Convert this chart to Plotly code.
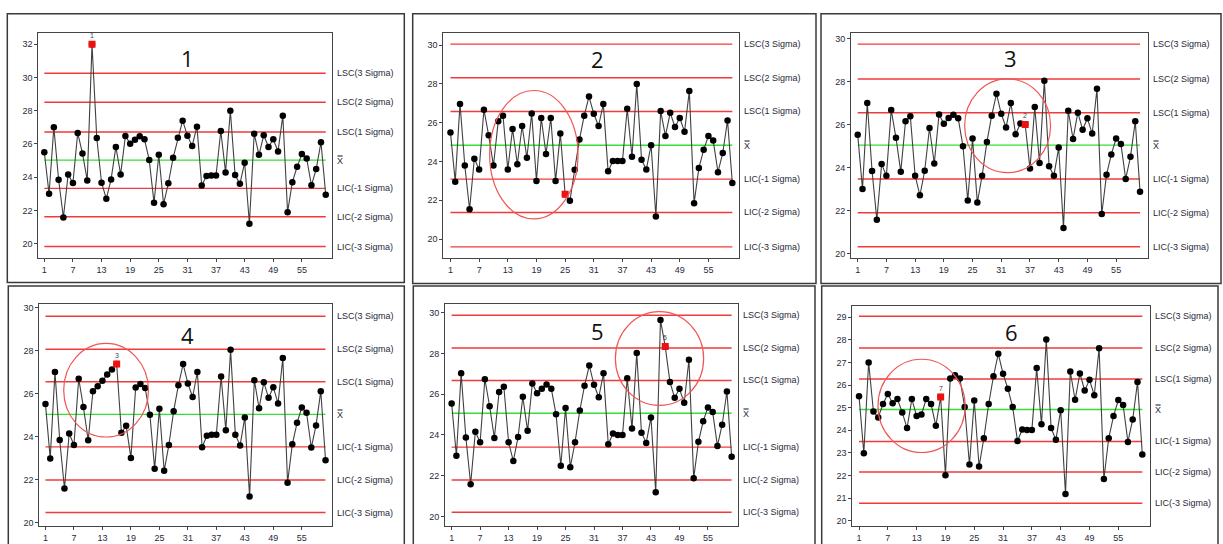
import plotly.graph_objects as go

W, H = 1223, 544

# ---------------- data ----------------
x_idx = list(range(1, 61))
x_ticks = [1, 7, 13, 19, 25, 31, 37, 43, 49, 55]

p1 = [25.5, 23.0, 27.0, 23.85, 21.58, 24.17, 23.65, 26.66, 25.43, 23.81,
      32.0, 26.36, 23.67, 22.7, 23.87, 25.82, 24.17, 26.48, 26.02, 26.26,
      26.46, 26.28, 25.03, 22.46, 25.35, 22.38, 23.63, 25.17, 26.38, 27.4,
      26.5, 25.88, 27.04, 23.5, 24.07, 24.1, 24.1, 26.78, 24.29, 28.0,
      24.13, 23.6, 24.87, 21.2, 26.62, 25.35, 26.52, 25.82, 26.28, 25.55,
      27.7, 21.9, 23.7, 24.63, 25.39, 25.13, 23.51, 24.49, 26.1, 22.94]
p2 = [25.49, 22.96, 26.97, 23.79, 21.54, 24.14, 23.59, 26.67, 25.35, 23.79,
      26.07, 26.36, 23.59, 25.68, 23.86, 25.83, 24.19, 26.48, 22.99, 26.24,
      24.39, 26.24, 22.99, 25.45, 22.31, 21.97, 23.57, 25.13, 26.36, 27.35,
      26.46, 25.83, 26.97, 23.5, 24.02, 24.02, 24.02, 26.72, 24.24, 28.0,
      24.09, 23.59, 24.84, 21.16, 26.6, 25.32, 26.51, 25.78, 26.24, 25.54,
      27.64, 21.85, 23.66, 24.6, 25.32, 25.08, 23.45, 24.44, 26.12, 22.89]
p3 = [25.53, 23.0, 27.0, 23.84, 21.57, 24.16, 23.62, 26.68, 25.38, 23.81,
      26.15, 26.38, 23.62, 22.71, 23.85, 25.84, 24.19, 26.47, 26.04, 26.3,
      26.46, 26.29, 24.99, 22.47, 25.35, 22.37, 23.62, 25.19, 26.41, 27.43,
      26.5, 25.86, 27.0, 25.55, 26.05, 26.0, 23.95, 26.81, 24.21, 28.04,
      24.06, 23.62, 24.93, 21.19, 26.64, 25.33, 26.55, 25.76, 26.29, 25.58,
      27.66, 21.84, 23.67, 24.61, 25.35, 25.1, 23.47, 24.5, 26.15, 22.88]
p4 = [25.52, 22.99, 27.01, 23.85, 21.6, 24.15, 23.62, 26.7, 25.38, 23.84,
      26.12, 26.35, 26.6, 26.9, 27.13, 27.38, 24.19, 24.51, 23.02, 26.29,
      26.45, 26.27, 25.02, 22.51, 25.3, 22.42, 23.62, 25.19, 26.39, 27.38,
      26.48, 25.85, 27.01, 23.51, 24.05, 24.1, 24.1, 26.8, 24.3, 28.04,
      24.1, 23.6, 24.9, 21.22, 26.63, 25.33, 26.53, 25.81, 26.3, 25.55,
      27.66, 21.86, 23.65, 24.65, 25.36, 25.12, 23.5, 24.53, 26.12, 22.91]
p5 = [25.54, 22.98, 27.02, 23.87, 21.58, 24.16, 23.64, 26.73, 25.41, 23.85,
      26.11, 26.36, 23.64, 22.72, 23.9, 25.87, 24.2, 26.52, 26.05, 26.26,
      26.47, 26.26, 25.01, 22.49, 25.32, 22.42, 23.64, 25.2, 26.41, 27.4,
      26.46, 25.85, 27.02, 23.54, 24.07, 24.0, 24.0, 26.78, 24.31, 28.02,
      24.11, 23.61, 24.86, 21.19, 29.64, 28.34, 26.59, 25.82, 26.26, 25.58,
      27.69, 21.87, 23.66, 24.67, 25.35, 25.12, 23.46, 24.5, 26.13, 22.93]
p6 = [25.51, 22.99, 27.0, 24.83, 24.57, 25.16, 25.61, 25.2, 25.38, 24.79,
      24.1, 25.38, 24.63, 24.7, 25.38, 25.16, 24.2, 25.47, 22.02, 26.29,
      26.43, 26.29, 25.03, 22.49, 25.32, 22.4, 23.65, 25.16, 26.39, 27.38,
      26.5, 25.84, 25.03, 23.53, 24.04, 24.01, 24.01, 26.75, 24.27, 28.01,
      24.1, 23.58, 24.89, 21.19, 26.6, 25.35, 26.51, 25.76, 26.23, 25.55,
      27.63, 21.85, 23.65, 24.63, 25.34, 25.12, 23.49, 24.48, 26.13, 22.93]

# control limits: +3s, +2s, +1s, mean, -1s, -2s, -3s
lim1 = [30.25, 28.51, 26.72, 25.03, 23.33, 21.62, 19.83]
lim2 = [30.05, 28.32, 26.58, 24.84, 23.09, 21.37, 19.60]
lim3 = [29.74, 28.12, 26.55, 25.04, 23.47, 21.90, 20.32]
lim4 = [29.60, 28.07, 26.56, 25.04, 23.53, 21.99, 20.48]
lim5 = [29.87, 28.26, 26.67, 25.06, 23.40, 21.79, 20.21]
lim6 = [29.04, 27.64, 26.27, 24.92, 23.51, 22.16, 20.78]

limit_labels = ["LSC(3 Sigma)", "LSC(2 Sigma)", "LSC(1 Sigma)", "X\u033F",
                "LIC(-1 Sigma)", "LIC(-2 Sigma)", "LIC(-3 Sigma)"]

# flagged points (1-based index) and their rule labels
flag_idx = [11, 25, 36, 16, 46, 18]
flag_txt = ["1", "", "2", "3", "5", "7"]

panel_names = ["1", "2", "3", "4", "5", "6"]

# highlight ellipses in data units: (x0, x1, y0, y1); None = no ellipse
ellipses = [None,
            (9.2, 27.7, 21.04, 27.66),
            (23.35, 41.3, 23.76, 28.12),
            (4.84, 22.7, 23.99, 28.34),
            (35.5, 54.1, 25.45, 30.05),
            (4.95, 23.1, 23.02, 27.14)]

series = [p1, p2, p3, p4, p5, p6]
limits = [lim1, lim2, lim3, lim4, lim5, lim6]

# ---------------- layout (pixels) ----------------
frames = [(38.3, 331.7, 31.7, 258.3), (443.3, 739.0, 31.7, 258.3), (851.0, 1147.7, 32.3, 258.3),
          (39.3, 331.7, 304.7, 528.0), (445.0, 738.3, 304.7, 528.0), (852.3, 1150.0, 306.3, 528.0)]
boxes = [(7.3, 404.3, 12.7, 283.0), (412.7, 816.0, 12.7, 284.0), (821.0, 1221.0, 12.7, 284.0),
         (8.3, 404.3, 286.7, 562.0), (413.3, 815.0, 286.7, 562.0), (821.7, 1218.0, 286.7, 562.0)]
yranges = [(19.15, 32.7), (19.03, 30.65), (19.8, 30.25), (19.85, 30.17), (19.53, 30.42), (19.77, 29.51)]
ydticks = [2, 2, 2, 2, 2, 1]
xranges = [(-0.26, 61.25), (-0.5, 61.4), (-0.4, 61.6), (-0.3, 61.3), (-0.4, 61.4), (-0.4, 61.6)]
title_pos = [(187, 57), (597, 58), (1010, 57), (187, 336), (597, 332), (1011, 333)]


def px(x):
    return x / W


def py(y):
    return 1 - y / H


fig = go.Figure()
shapes = []
annotations = []
tick_font = dict(family="Liberation Sans, Arial, sans-serif", size=9, color="#2a2a3a")
line_colors = ["#f23a3a", "#f23a3a", "#f23a3a", "#33e033", "#f23a3a", "#f23a3a", "#f23a3a"]

for k in range(6):
    n = k + 1
    xa = "x" if n == 1 else f"x{n}"
    ya = "y" if n == 1 else f"y{n}"
    l, r, t, b = frames[k]
    fig.update_layout(**{
        ("xaxis" if n == 1 else f"xaxis{n}"): dict(
            domain=[px(l), px(r)], anchor=ya, range=list(xranges[k]),
            tickmode="array", tickvals=x_ticks, ticks="outside", ticklen=3,
            tickcolor="#444", showline=True, linecolor="#444", linewidth=1,
            mirror=True, showgrid=False, zeroline=False, tickfont=tick_font),
        ("yaxis" if n == 1 else f"yaxis{n}"): dict(
            domain=[py(b), py(t)], anchor=xa, range=list(yranges[k]),
            tick0=20, dtick=ydticks[k], ticks="outside", ticklen=3,
            tickcolor="#444", showline=True, linecolor="#444", linewidth=1,
            mirror=True, showgrid=False, zeroline=False, tickfont=tick_font),
    })
    for j, v in enumerate(limits[k]):
        fig.add_trace(go.Scatter(x=[x_idx[0], x_idx[-1]], y=[v, v], mode="lines",
                                 line=dict(color=line_colors[j], width=1.4),
                                 xaxis=xa, yaxis=ya, hoverinfo="skip", showlegend=False))
        annotations.append(dict(x=px(r + 3), y=v, xref="paper", yref=ya, text=limit_labels[j],
                                showarrow=False, xanchor="left", yanchor="middle",
                                font=dict(family="Liberation Sans, Arial, sans-serif", size=9,
                                          color="#2a2a3a")))
    fig.add_trace(go.Scatter(x=x_idx, y=series[k], mode="lines+markers",
                             line=dict(color="#404040", width=1.1),
                             marker=dict(color="#000000", size=6.5, symbol="circle"),
                             xaxis=xa, yaxis=ya, showlegend=False))
    fi = flag_idx[k]
    fig.add_trace(go.Scatter(x=[x_idx[fi - 1]], y=[series[k][fi - 1]], mode="markers",
                             marker=dict(color="#ee1111", size=7, symbol="square"),
                             xaxis=xa, yaxis=ya, showlegend=False))
    if flag_txt[k]:
        annotations.append(dict(x=x_idx[fi - 1], y=series[k][fi - 1], xref=xa, yref=ya,
                                text=flag_txt[k], showarrow=False, yshift=9,
                                font=dict(family="Liberation Sans, Arial, sans-serif", size=7,
                                          color="#444444")))
    tx, ty = title_pos[k]
    annotations.append(dict(x=px(tx), y=py(ty), xref="paper", yref="paper", text=panel_names[k],
                            showarrow=False, xanchor="center", yanchor="middle",
                            font=dict(family="Open Sans, sans-serif", size=22, color="#111111")))
    if ellipses[k] is not None:
        x0, x1, y0, y1 = ellipses[k]
        shapes.append(dict(type="circle", xref=xa, yref=ya, x0=x0, x1=x1, y0=y0, y1=y1,
                           line=dict(color="#f05555", width=1.2)))
    bl, br, bt, bb = boxes[k]
    shapes.append(dict(type="rect", xref="paper", yref="paper", x0=px(bl), x1=px(br),
                       y0=py(bb), y1=py(bt), line=dict(color="#3a3a3a", width=1.5)))

fig.update_layout(width=W, height=H, margin=dict(l=0, r=0, t=0, b=0),
                  paper_bgcolor="white", plot_bgcolor="white",
                  shapes=shapes, annotations=annotations, showlegend=False)

fig.write_html("out.html")
